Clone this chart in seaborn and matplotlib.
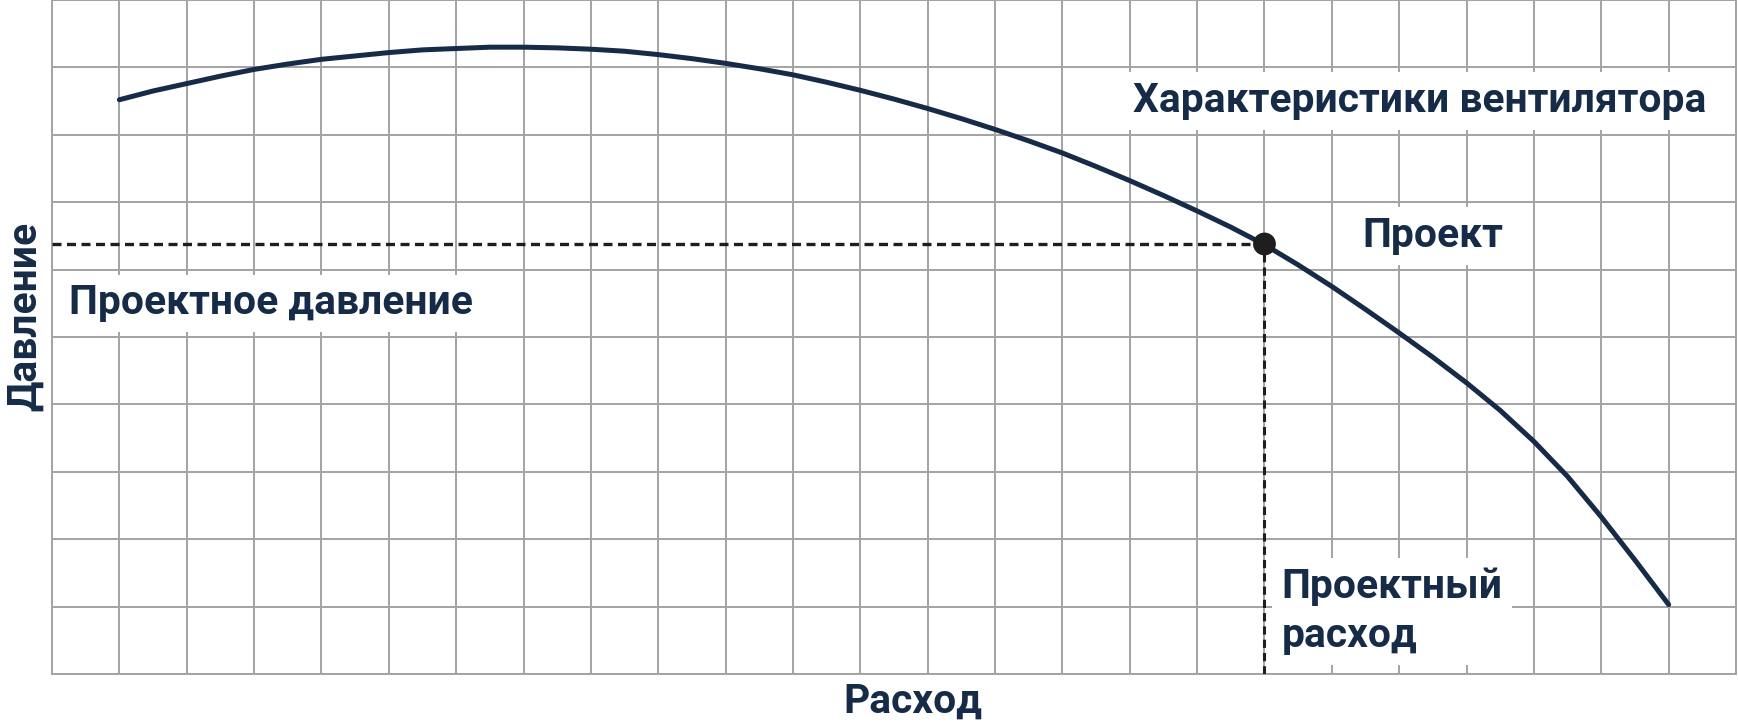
import numpy as np
import pandas as pd
import matplotlib
matplotlib.use("Agg")
import matplotlib.pyplot as plt
import seaborn as sns

# fan curve (grid units, half-cell steps)
flow = [1, 1.5, 2, 2.5, 3, 3.5, 4, 4.5, 5, 5.5, 6, 6.5, 7, 7.5, 8, 8.5,
        9, 9.5, 10, 10.5, 11, 11.5, 12, 12.5, 13, 13.5, 14, 14.5, 15, 15.5, 16, 16.5,
        17, 17.5, 18, 18.5, 19, 19.5, 20, 20.5, 21, 21.5, 22, 22.5, 23, 23.5, 24]
pressure = [8.52, 8.65, 8.76, 8.87, 8.97, 9.05, 9.12, 9.17, 9.22, 9.26, 9.28, 9.30,
            9.30, 9.29, 9.27, 9.24, 9.19, 9.13, 9.06, 8.98, 8.89, 8.78, 8.66, 8.53,
            8.39, 8.24, 8.08, 7.91, 7.73, 7.53, 7.32, 7.10, 6.87, 6.63, 6.37, 6.07,
            5.75, 5.41, 5.06, 4.70, 4.32, 3.91, 3.45, 2.93, 2.33, 1.69, 1.03]

# design point
design_flow = 18
design_pressure = 6.38

x_max = 25
y_max = 10

navy = "#152b47"
grid_gray = "#a3a3a3"

sns.set_style("whitegrid", {"grid.color": grid_gray, "axes.edgecolor": grid_gray})
plt.rcParams['font.family'] = ['Roboto', 'DejaVu Sans']

fig = plt.figure(figsize=(17.38, 7.27), dpi=100)
ax = fig.add_axes([52 / 1738, 53 / 727, 1684 / 1738, 674 / 727])

curve = pd.DataFrame({"flow": flow, "pressure": pressure})
sns.lineplot(data=curve, x="flow", y="pressure", ax=ax, color=navy, linewidth=3.6,
             solid_capstyle="round", solid_joinstyle="round", zorder=4)

# dashed guides to the design point
ax.plot([0, design_flow], [design_pressure, design_pressure], color="#1e1e1e",
        linewidth=2.4, dashes=(2.7, 1.65), zorder=3)
ax.plot([design_flow, design_flow], [0, design_pressure], color="#1e1e1e",
        linewidth=2.2, dashes=(2.7, 1.65), zorder=3)
sns.scatterplot(x=[design_flow], y=[design_pressure], ax=ax, color="#1e1e1e",
                s=270, edgecolor="none", zorder=5)

ax.set_xlim(0, x_max)
ax.set_ylim(0, y_max)
ax.set_xticks(range(x_max + 1))
ax.set_yticks(range(y_max + 1))
ax.set_xticklabels([])
ax.set_yticklabels([])
ax.tick_params(length=0)
ax.grid(True, color=grid_gray, linewidth=1.4)
for sp in ax.spines.values():
    sp.set_color(grid_gray)
    sp.set_linewidth(1.4)

box = dict(facecolor="white", edgecolor="none", pad=7)
txt = dict(color=navy, fontsize=29.3, fontweight="bold", zorder=6)

ax.text(16.05, 8.5, "Характеристики вентилятора", ha="left", va="center", bbox=box, **txt)
ax.text(19.45, 6.5, "Проект", ha="left", va="center", bbox=box, **txt)
ax.text(0.25, 5.5, "Проектное давление", ha="left", va="center", bbox=box, **txt)
ax.text(18.25, 0.93, "Проектный\nрасход", ha="left", va="center", linespacing=1.38,
        bbox=box, **txt)

ax.set_xlabel("Расход", color=navy, fontsize=29.3, fontweight="bold", va="center")
ax.set_ylabel("Давление", color=navy, fontsize=29.3, fontweight="bold", va="center")
ax.xaxis.set_label_coords(0.511, -0.0415)
ax.yaxis.set_label_coords(-0.016, 0.531)

fig.savefig("out.png", dpi=100)
